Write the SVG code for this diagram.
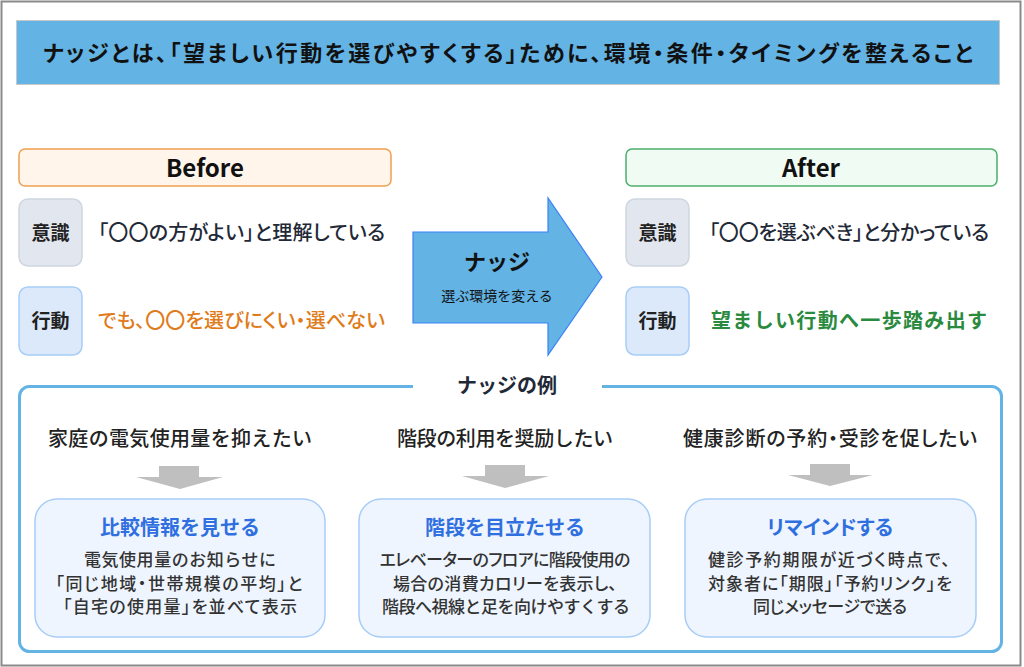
<svg xmlns="http://www.w3.org/2000/svg" width="1024" height="667" viewBox="0 0 1024 667">
<style>
text{font-family:"Noto Sans CJK JP","Noto Sans",sans-serif;}
.c{text-anchor:middle;}
.p{font-feature-settings:"palt";}
.hd{font-size:24px;font-weight:bold;fill:#111;}
.tag{font-size:19px;font-weight:bold;fill:#222;}
.lbl{font-size:20px;fill:#1f2937;font-weight:500;}
.ex{font-size:20px;fill:#222;font-weight:500;}
.ct{font-size:20px;font-weight:bold;fill:#2f6fe0;}
.cb{font-size:17px;fill:#333;font-weight:500;}
.card{fill:#eef5fe;stroke:#a8cdf7;stroke-width:1.5;}
.ga{fill:#bfbfbf;}
</style>
<rect x="0" y="0" width="1024" height="667" fill="#fff"/>
<rect x="1.5" y="1.5" width="1019" height="664" fill="none" stroke="#8a8a8a" stroke-width="2"/>

<g id="title">
<rect x="16.5" y="20.5" width="983" height="64" fill="#63b3e4" stroke="#c8c8c8" stroke-width="1"/>
<text x="508" y="61" class="c p" font-size="22" font-weight="bold" fill="#111" textLength="930">ナッジとは、「望ましい行動を選びやすくする」ために、環境・条件・タイミングを整えること</text>
</g>

<g id="before">
<rect x="19" y="149" width="372" height="37" rx="6" fill="#fff5ea" stroke="#f0a050" stroke-width="1.5"/>
<text x="205" y="177" class="c hd">Before</text>
</g>
<g id="before-ishiki">
<rect x="19" y="199" width="63" height="67" rx="9" fill="#e2e7ef" stroke="#cfd6e0" stroke-width="1.5"/>
<text x="50.5" y="240" class="c tag">意識</text>
<text x="98" y="240" class="lbl p" textLength="287">「〇〇の方がよい」と理解している</text>
</g>
<g id="before-kodo">
<rect x="19" y="287" width="63" height="68" rx="9" fill="#dbe9fb" stroke="#a8cdf7" stroke-width="1.5"/>
<text x="50.5" y="328" class="c tag">行動</text>
<text x="98" y="328" class="lbl p" style="fill:#e07b1a" textLength="287">でも、〇〇を選びにくい・選べない</text>
</g>

<g id="nudge-arrow">
<polygon points="413,232 548,232 548,198 602,277 548,355 548,323 413,323" fill="#63b3e4" stroke="#3b82f6" stroke-width="1.2"/>
<text x="497" y="270" class="c" font-size="22" font-weight="bold" fill="#111">ナッジ</text>
<text x="497" y="301" class="c" font-size="14" fill="#111">選ぶ環境を変える</text>
</g>

<g id="after">
<rect x="626" y="149" width="371" height="37" rx="6" fill="#effbf3" stroke="#4caf6a" stroke-width="1.5"/>
<text x="811" y="177" class="c hd">After</text>
</g>
<g id="after-ishiki">
<rect x="626" y="199" width="63" height="67" rx="9" fill="#e2e7ef" stroke="#cfd6e0" stroke-width="1.5"/>
<text x="657.5" y="240" class="c tag">意識</text>
<text x="709" y="240" class="lbl p" textLength="280">「〇〇を選ぶべき」と分かっている</text>
</g>
<g id="after-kodo">
<rect x="626" y="287" width="63" height="68" rx="9" fill="#dbe9fb" stroke="#a8cdf7" stroke-width="1.5"/>
<text x="657.5" y="328" class="c tag">行動</text>
<text x="711" y="328" class="lbl" style="fill:#2a8a3e;font-weight:bold" textLength="276">望ましい行動へ一歩踏み出す</text>
</g>

<g id="examples">
<rect x="19.5" y="386.5" width="982" height="265" rx="10" fill="none" stroke="#63b3e4" stroke-width="3"/>
<rect x="413" y="378" width="189" height="18" fill="#fff"/>
<text x="507" y="393" class="c" font-size="20" font-weight="bold" fill="#1f2937">ナッジの例</text>
</g>

<g id="connectors">
<polygon class="ga" points="159,466 199,466 199,477 223,477 180,489 136,477 159,477"/>
<polygon class="ga" points="485,465 525,465 525,476 549,476 505,488 462,476 485,476"/>
<polygon class="ga" points="810,464 850,464 850,475 873,475 830,486 788,475 810,475"/>
</g>

<g id="ex1">
<text x="180" y="446" class="c ex" textLength="264">家庭の電気使用量を抑えたい</text>
<rect class="card" x="35" y="499" width="290" height="138" rx="22"/>
<text x="180" y="535" class="c ct">比較情報を見せる</text>
<text x="180" y="566" class="c cb" textLength="192">電気使用量のお知らせに</text>
<text x="179" y="590" class="c cb p" textLength="247">「同じ地域・世帯規模の平均」と</text>
<text x="180" y="613" class="c cb p" textLength="234">「自宅の使用量」を並べて表示</text>
</g>
<g id="ex2">
<text x="505" y="446" class="c ex" textLength="216">階段の利用を奨励したい</text>
<rect class="card" x="359" y="499" width="291" height="138" rx="22"/>
<text x="505" y="535" class="c ct">階段を目立たせる</text>
<text x="505" y="566" class="c cb p" textLength="251">エレベーターのフロアに階段使用の</text>
<text x="505" y="590" class="c cb p" textLength="224">場合の消費カロリーを表示し、</text>
<text x="506" y="613" class="c cb" textLength="248">階段へ視線と足を向けやすくする</text>
</g>
<g id="ex3">
<text x="830" y="446" class="c ex p" textLength="294">健康診断の予約・受診を促したい</text>
<rect class="card" x="685" y="499" width="291" height="138" rx="22"/>
<text x="830" y="535" class="c ct p">リマインドする</text>
<text x="829" y="566" class="c cb p" textLength="242">健診予約期限が近づく時点で、</text>
<text x="830" y="590" class="c cb p" textLength="244">対象者に「期限」「予約リンク」を</text>
<text x="830" y="613" class="c cb p" textLength="154">同じメッセージで送る</text>
</g>
</svg>
